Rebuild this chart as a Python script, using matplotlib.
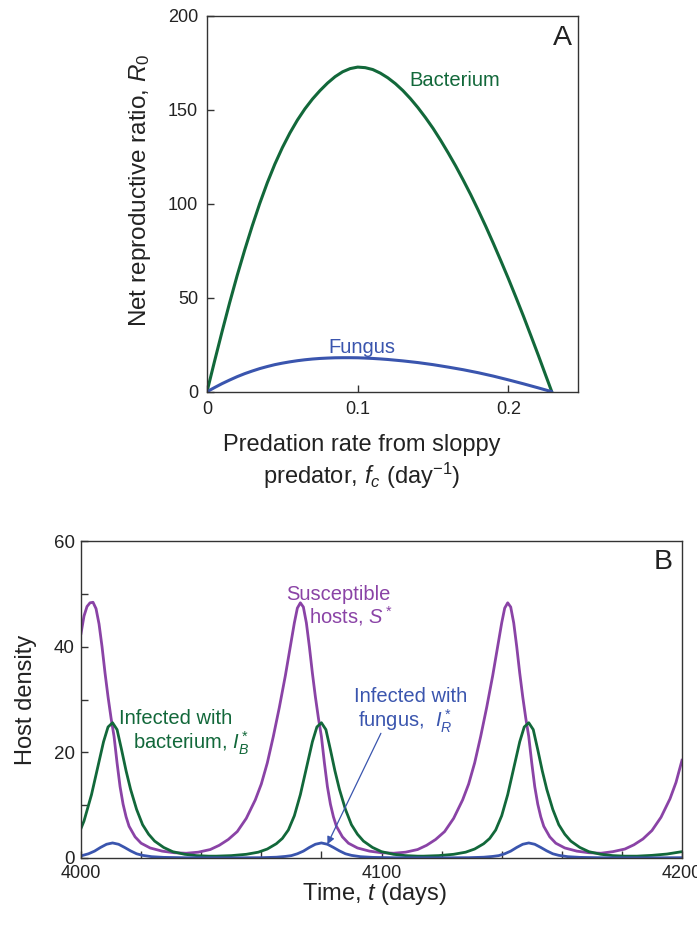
import matplotlib
matplotlib.use("Agg")
import matplotlib.pyplot as plt
from matplotlib.ticker import MultipleLocator, FixedLocator

plt.rcParams['font.family'] = ['Liberation Sans', 'DejaVu Sans']
plt.rcParams['mathtext.fontset'] = 'custom'
plt.rcParams['mathtext.rm'] = 'Liberation Sans'
plt.rcParams['mathtext.it'] = 'Liberation Sans:italic'
plt.rcParams['mathtext.bf'] = 'Liberation Sans:bold'

GREEN = '#12683A'
BLUE = '#3A55AE'
PURPLE = '#8A43A6'
SPINE = '#333333'
TXT = '#222222'

# ---------------- Panel A data ----------------
fc_bact = [0.000, 0.005, 0.010, 0.015, 0.020, 0.025, 0.030, 0.035, 0.040, 0.045,
           0.050, 0.055, 0.060, 0.065, 0.070, 0.075, 0.080, 0.085, 0.090, 0.095,
           0.100, 0.105, 0.110, 0.115, 0.120, 0.125, 0.130, 0.135, 0.140, 0.145,
           0.150, 0.155, 0.160, 0.165, 0.170, 0.175, 0.180, 0.185, 0.190, 0.195,
           0.200, 0.205, 0.210, 0.215, 0.220, 0.225, 0.2288]
r0_bact = [0.0, 16.2, 32.0, 47.3, 61.8, 75.4, 88.2, 100.2, 111.2, 121.1,
           129.9, 137.7, 144.6, 150.6, 155.8, 160.3, 164.3, 167.7, 170.3, 172.0,
           172.8, 172.5, 171.5, 169.6, 167.1, 164.0, 160.3, 156.0, 151.2, 145.9,
           140.2, 133.9, 127.2, 120.2, 112.7, 104.9, 96.6, 88.0, 79.0, 69.7,
           60.2, 50.3, 40.2, 29.7, 19.1, 8.2, 0.0]
fc_fung = [0.000, 0.005, 0.010, 0.015, 0.020, 0.025, 0.030, 0.035, 0.040, 0.045,
           0.050, 0.055, 0.060, 0.065, 0.070, 0.075, 0.080, 0.085, 0.090, 0.095,
           0.100, 0.105, 0.110, 0.115, 0.120, 0.130, 0.140, 0.150, 0.160, 0.170,
           0.180, 0.190, 0.200, 0.210, 0.220, 0.2288]
r0_fung = [0.0, 2.2, 4.3, 6.2, 8.0, 9.6, 11.0, 12.3, 13.4, 14.4,
           15.2, 15.9, 16.5, 17.0, 17.4, 17.7, 17.9, 18.05, 18.1, 18.1,
           18.05, 17.9, 17.7, 17.45, 17.15, 16.4, 15.5, 14.4, 13.1, 11.7,
           10.1, 8.3, 6.3, 4.2, 2.0, 0.0]

# ---------------- Panel B data ----------------
t_s = [4000, 4001, 4002, 4003, 4004, 4005, 4006, 4007, 4008, 4009, 4010, 4011, 4012, 4013,
       4014, 4015, 4016, 4018, 4020, 4023, 4027, 4031, 4035,
       4039, 4043, 4046, 4049, 4052, 4055, 4058, 4060, 4062, 4064, 4066, 4068, 4069.5,
       4071, 4072, 4073, 4074, 4075, 4076, 4077, 4078, 4079, 4080, 4081, 4082, 4083,
       4084, 4085, 4087, 4089, 4092, 4096, 4100, 4104,
       4108, 4112, 4115, 4118, 4121, 4124, 4127, 4129, 4131, 4133, 4135, 4137, 4138.5,
       4140, 4141, 4142, 4143, 4144, 4145, 4146, 4147, 4148, 4149, 4150, 4151, 4152,
       4153, 4154, 4156, 4158, 4161, 4165, 4169, 4173,
       4177, 4181, 4184, 4187, 4190, 4193, 4196, 4198, 4200]
s_vals = [42.5, 45.8, 47.6, 48.3, 48.4, 47.2, 44.3, 40.0, 35.0, 30.5, 26.5, 23.0, 18.0, 13.5,
          10.2, 7.8, 6.0, 4.0, 2.8, 1.9, 1.3, 1.0, 0.9,
          1.1, 1.6, 2.4, 3.5, 5.0, 7.5, 11.0, 14.0, 18.0, 23.0, 28.5, 34.5, 39.5,
          44.5, 47.3, 48.3, 47.5, 44.5, 40.0, 35.0, 30.5, 26.5, 23.0, 18.0, 13.5, 10.2,
          7.8, 6.0, 4.0, 2.8, 1.9, 1.3, 1.0, 0.9,
          1.1, 1.6, 2.4, 3.5, 5.0, 7.5, 11.0, 14.0, 18.0, 23.0, 28.5, 34.5, 39.5,
          44.5, 47.3, 48.3, 47.5, 44.5, 40.0, 35.0, 30.5, 26.5, 23.0, 18.0, 13.5, 10.2,
          7.8, 6.0, 4.0, 2.8, 1.9, 1.3, 1.0, 0.9,
          1.2, 1.7, 2.5, 3.6, 5.2, 7.7, 11.2, 14.3, 18.5]

t_b = [4000, 4001, 4002, 4003.5, 4005.5, 4007.5, 4009, 4010.5, 4012, 4013.5, 4015, 4016.5,
       4018.5, 4020.5, 4022.5, 4024.5, 4027.5, 4030.5, 4034.5, 4038.5, 4042.5,
       4045, 4050, 4055, 4059, 4062, 4065, 4067, 4069, 4071, 4073, 4075, 4077, 4078.5,
       4080, 4081.5, 4083, 4084.5, 4086, 4088, 4090, 4092, 4094, 4097, 4100, 4104, 4108, 4112,
       4114, 4119, 4124, 4128, 4131, 4134, 4136, 4138, 4140, 4142, 4144, 4146, 4147.5,
       4149, 4150.5, 4152, 4153.5, 4155, 4157, 4159, 4161, 4163, 4166, 4169, 4173, 4177, 4181,
       4185, 4190, 4195, 4200]
b_vals = [5.6, 7.0, 9.0, 12.0, 17.0, 22.0, 24.8, 25.6, 24.3, 20.5, 16.5, 13.0,
          9.2, 6.3, 4.5, 3.2, 2.0, 1.2, 0.7, 0.45, 0.35,
          0.35, 0.45, 0.7, 1.1, 1.7, 2.7, 3.7, 5.3, 8.0, 12.0, 17.0, 22.0, 24.8,
          25.6, 24.3, 20.5, 16.5, 13.0, 9.2, 6.3, 4.5, 3.2, 2.0, 1.2, 0.7, 0.45, 0.35,
          0.35, 0.45, 0.7, 1.1, 1.7, 2.7, 3.7, 5.3, 8.0, 12.0, 17.0, 22.0, 24.8,
          25.6, 24.3, 20.5, 16.5, 13.0, 9.2, 6.3, 4.5, 3.2, 2.0, 1.2, 0.7, 0.45, 0.35,
          0.35, 0.5, 0.75, 1.2]

t_r = [4000, 4002.5, 4004.5, 4006.5, 4008.5, 4010.5, 4012.5, 4014.5, 4016.5, 4018.5, 4020.5,
       4023.5, 4027.5, 4034.5, 4050, 4060, 4065, 4068, 4070, 4072, 4074, 4076, 4078, 4080,
       4082, 4084, 4086, 4088, 4090, 4093, 4097, 4104, 4119, 4129, 4134, 4137, 4139, 4141,
       4143, 4145, 4147, 4149, 4151, 4153, 4155, 4157, 4159, 4162, 4166, 4173, 4188, 4200]
r_vals = [0.4, 0.8, 1.3, 2.0, 2.6, 2.85, 2.6, 2.0, 1.35, 0.8, 0.5,
          0.25, 0.12, 0.05, 0.03, 0.06, 0.15, 0.3, 0.45, 0.8, 1.3, 2.0, 2.6, 2.85,
          2.6, 2.0, 1.35, 0.8, 0.5, 0.25, 0.12, 0.05, 0.03, 0.06, 0.15, 0.3, 0.45, 0.8,
          1.3, 2.0, 2.6, 2.85, 2.6, 2.0, 1.35, 0.8, 0.5, 0.25, 0.12, 0.05, 0.03, 0.06]

W, H = 697, 925
fig = plt.figure(figsize=(W / 100, H / 100), dpi=100)


def box(l, t, r, b):
    return [l / W, 1 - b / H, (r - l) / W, (b - t) / H]


def style(ax):
    for sp in ax.spines.values():
        sp.set_color(SPINE)
        sp.set_linewidth(1.0)
    ax.tick_params(which='both', direction='in', color=SPINE, width=1.0,
                   top=False, right=False, labelcolor=TXT)


# ---------- Panel A ----------
axA = fig.add_axes(box(207, 16, 578, 391.7))
axA.plot(fc_bact, r0_bact, color=GREEN, lw=2.2, solid_capstyle='round',
         solid_joinstyle='round')
axA.plot(fc_fung, r0_fung, color=BLUE, lw=2.2, solid_capstyle='round',
         solid_joinstyle='round')
axA.set_xlim(0, 0.2462)
axA.set_ylim(0, 200)
axA.set_xticks([0, 0.1, 0.2])
axA.set_xticklabels(['0', '0.1', '0.2'])
axA.set_yticks([0, 50, 100, 150, 200])
style(axA)
axA.tick_params(axis='both', length=5, labelsize=13)
axA.tick_params(axis='y', pad=6.5)
axA.tick_params(axis='x', pad=7)
fig.text(455 / W, 1 - 80 / H, 'Bacterium', color=GREEN, fontsize=14.5,
         ha='center', va='center')
fig.text(362 / W, 1 - 348 / H, 'Fungus', color=BLUE, fontsize=14.5,
         ha='center', va='center')
fig.text(562 / W, 1 - 38 / H, 'A', color=TXT, fontsize=20.5, ha='center', va='center')
fig.text(140 / W, 1 - 190 / H, 'Net reproductive ratio, $R_0$', rotation=90,
         fontsize=17.5, color=TXT, ha='center', va='center')
fig.text(362 / W, 1 - 434 / H, 'Predation rate from sloppy\npredator, $f_c$ (day$^{-1}$)',
         fontsize=17, color=TXT, ha='center', va='top', linespacing=1.2)

# ---------- Panel B ----------
axB = fig.add_axes(box(81, 541, 682, 858))
axB.plot(t_s, s_vals, color=PURPLE, lw=2.0, solid_joinstyle='round')
axB.plot(t_b, b_vals, color=GREEN, lw=2.0, solid_joinstyle='round')
axB.plot(t_r, r_vals, color=BLUE, lw=2.0, solid_joinstyle='round')
axB.set_xlim(4000, 4200)
axB.set_ylim(0, 60)
axB.xaxis.set_major_locator(FixedLocator([4000, 4100, 4200]))
axB.xaxis.set_minor_locator(MultipleLocator(20))
axB.yaxis.set_major_locator(FixedLocator([0, 20, 40, 60]))
axB.yaxis.set_minor_locator(MultipleLocator(10))
style(axB)
axB.tick_params(which='both', length=5, labelsize=13)
axB.tick_params(axis='y', pad=4.5, labelsize=13.5)
axB.tick_params(axis='x', pad=5)
fig.text(26 / W, 1 - 700 / H, 'Host density', rotation=90, fontsize=17, color=TXT,
         ha='center', va='center')
fig.text(375 / W, 1 - 894 / H, 'Time, $t$ (days)', fontsize=17, color=TXT,
         ha='center', va='center')
fig.text(663 / W, 1 - 562 / H, 'B', color=TXT, fontsize=20.5, ha='center', va='center')

fig.text(391 / W, 1 - 600 / H, 'Susceptible', color=PURPLE, fontsize=14.5, ha='right',
         va='baseline')
fig.text(393 / W, 1 - 623 / H, 'hosts, $S^*$', color=PURPLE, fontsize=14.5, ha='right',
         va='baseline')
fig.text(176 / W, 1 - 724 / H, 'Infected with', color=GREEN, fontsize=14.5, ha='center',
         va='baseline')
fig.text(191 / W, 1 - 749 / H, 'bacterium, $I_B^*$', color=GREEN, fontsize=14.5,
         ha='center', va='baseline')
fig.text(411 / W, 1 - 702 / H, 'Infected with', color=BLUE, fontsize=14.5, ha='center',
         va='baseline')
fig.text(405 / W, 1 - 727 / H, 'fungus,  $I_R^*$', color=BLUE, fontsize=14.5, ha='center',
         va='baseline')

arrow_tip = (4082.0, 2.6)
arrow_tail = (4099.8, 23.6)
axB.annotate('', xy=arrow_tip, xytext=arrow_tail,
             arrowprops=dict(arrowstyle='-|>', color=BLUE, lw=0.9, mutation_scale=11,
                             shrinkA=0, shrinkB=0))

fig.savefig('out.png', dpi=100)
